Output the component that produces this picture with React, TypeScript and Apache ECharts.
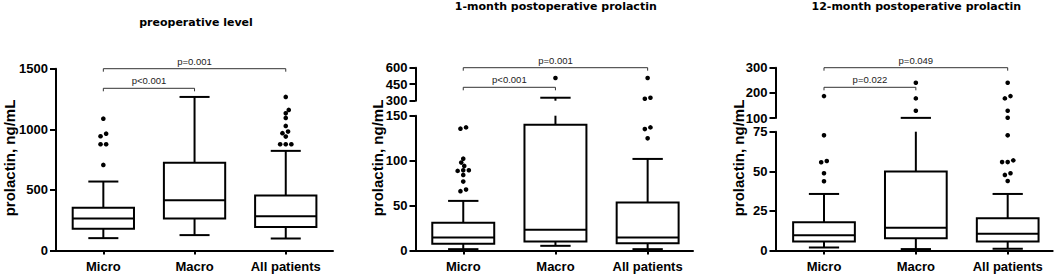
import React, { useEffect, useRef } from "react";
import * as echarts from "echarts";

// ---------- data ----------
const categories = ["Micro", "Macro", "All patients"];
const panelTitles = [
  "preoperative level",
  "1-month postoperative prolactin",
  "12-month postoperative prolactin",
];
const yAxisTitle = "prolactin, ng/mL";

// box values: [lower whisker, Q1, median, Q3, upper whisker]
const preopBoxes = [
  [102, 179, 264, 352, 569],
  [127, 264, 415, 723, 1267],
  [99, 193, 283, 453, 822],
];
const preopOutliers = [
  [706, 877, 877, 943, 964, 1088],
  [],
  [877, 877, 877, 940, 968, 981, 1028, 1094, 1132, 1160, 1267],
];
const preopTicks = [0, 500, 1000, 1500];
const preopPValues = [
  { from: 0, to: 2, label: "p=0.001" },
  { from: 0, to: 1, label: "p<0.001" },
];

const month1Boxes = [
  [1.5, 7.4, 14.4, 30.8, 55.2],
  [5.2, 10, 23, 140, 327],
  [1.5, 8.2, 14.4, 53.3, 101.9],
];
const month1Outliers = [
  [66, 67.8, 76.7, 84.1, 88.6, 89.3, 89.3, 94.1, 97.8, 102.2, 135.6, 137],
  [506],
  [124.8, 135.1, 137, 318, 327, 506],
];
const month1LowerTicks = [0, 50, 100, 150];
const month1UpperTicks = [300, 450, 600];
const month1PValues = [
  { from: 0, to: 2, label: "p=0.001" },
  { from: 0, to: 1, label: "p<0.001" },
];

const month12Boxes = [
  [1.9, 5.7, 9.7, 17.9, 35.7],
  [0.9, 7.8, 14.3, 49.8, 100.5],
  [1.1, 5.7, 10.5, 20.4, 35.7],
];
const month12Outliers = [
  [43.7, 48.8, 55.7, 56.5, 72.7, 187],
  [129, 178, 240],
  [43.9, 47.7, 48.8, 55.8, 55.8, 56.9, 72.7, 101, 129, 178, 187, 240],
];
const month12LowerTicks = [0, 25, 50, 75];
const month12UpperTicks = [100, 200, 300];
const month12PValues = [
  { from: 0, to: 2, label: "p=0.049" },
  { from: 0, to: 1, label: "p=0.022" },
];

// ---------- layout & style ----------
const FONT = "'Liberation Sans', Arial, Helvetica, sans-serif";
const TITLE_FONT = "'DejaVu Sans', Verdana, sans-serif";
const BOX_FRAC = 0.672;
const CAP_FRAC = 0.49;
const LW = 2;
const DOT_R = 2.3;
const ROW_TOL = 2.6;
const ROW_SP = 5.6;
const MIN_D = 4.4;
const BRACKET_STEP = 19.6;
const BRACKET_DROP = 3;

const layouts = [
  {
    left: 56, width: 277, xMin: -0.519, xMax: 2.518,
    segs: [{ top: 68.7, height: 181.8 }],
    titleX: 196, titleY: 22.7, nameX: 9.2,
  },
  {
    left: 415.5, width: 277.5, xMin: -0.518, xMax: 2.492,
    segs: [{ top: 115.7, height: 134.8 }, { top: 67.7, height: 33 }],
    titleX: 555.8, titleY: 6.5, nameX: 377.5,
  },
  {
    left: 775.5, width: 277.2, xMin: -0.528, xMax: 2.49,
    segs: [{ top: 131.7, height: 118.8 }, { top: 67.7, height: 50.3 }],
    titleX: 916.3, titleY: 6.5, nameX: 738.5,
  },
];

const panels = [
  { boxes: preopBoxes, outliers: preopOutliers, tickSets: [preopTicks], pvals: preopPValues },
  { boxes: month1Boxes, outliers: month1Outliers, tickSets: [month1LowerTicks, month1UpperTicks], pvals: month1PValues },
  { boxes: month12Boxes, outliers: month12Outliers, tickSets: [month12LowerTicks, month12UpperTicks], pvals: month12PValues },
];

function swarm(pts: any[]) {
  const out: number[][] = [];
  const byCat: Record<number, any[]> = {};
  pts.forEach((p) => {
    (byCat[p.cat] = byCat[p.cat] || []).push(p);
  });
  Object.keys(byCat).forEach((k) => {
    const list = byCat[+k].slice().sort((a, b) => b.py - a.py);
    const placed: number[][] = [];
    let i = 0;
    while (i < list.length) {
      const row = [list[i]];
      let j = i + 1;
      while (j < list.length && Math.abs(list[j].py - list[i].py) <= ROW_TOL) {
        row.push(list[j]);
        j++;
      }
      const n = row.length;
      const base = row.map((_, m) => (m - (n - 1) / 2) * ROW_SP);
      let shift = 0;
      for (let s = 0; s < 200; s++) {
        const cand = (s % 2 === 1 ? 1 : -1) * Math.ceil(s / 2) * 0.5;
        const ok = row.every((p, m) =>
          placed.every((q) => Math.hypot(p.px + base[m] + cand - q[0], p.py - q[1]) >= MIN_D)
        );
        if (ok) {
          shift = cand;
          break;
        }
      }
      row.forEach((p, m) => {
        const x = p.px + base[m] + shift;
        placed.push([x, p.py]);
        out[p.idx] = [x, p.py];
      });
      i = j;
    }
  });
  return out;
}

function buildOption() {
  const grid: any[] = [];
  const xAxis: any[] = [];
  const yAxis: any[] = [];
  const series: any[] = [];
  const graphic: any[] = [];

  panels.forEach((panel, pi) => {
    const lay = layouts[pi];
    lay.segs.forEach((seg, si) => {
      const ticks = panel.tickSets[si];
      const yMin = ticks[0];
      const yMax = ticks[ticks.length - 1];
      const interval = ticks[1] - ticks[0];
      const gi = grid.length;
      const isLower = si === 0;
      const isTop = si === lay.segs.length - 1;
      grid.push({ left: lay.left, top: seg.top, width: lay.width, height: seg.height, containLabel: false, outerBoundsMode: "none" });
      xAxis.push({
        gridIndex: gi,
        type: "value",
        min: lay.xMin,
        max: lay.xMax,
        show: isLower,
        axisLine: { show: true, onZero: false, lineStyle: { color: "#000", width: LW } },
        axisTick: { show: true, customValues: [0, 1, 2], length: 4, lineStyle: { color: "#000", width: LW } },
        axisLabel: {
          show: true,
          customValues: [0, 1, 2],
          formatter: (v: number) => categories[Math.round(v)] ?? "",
          fontFamily: FONT,
          fontWeight: "bold",
          fontSize: 13,
          color: "#000",
          margin: 9,
        },
        splitLine: { show: false },
      });
      yAxis.push({
        gridIndex: gi,
        type: "value",
        min: yMin,
        max: yMax,
        interval,
        axisLine: { show: true, onZero: false, lineStyle: { color: "#000", width: LW } },
        axisTick: { show: true, length: 6, lineStyle: { color: "#000", width: LW } },
        axisLabel: {
          fontFamily: FONT,
          fontWeight: "bold",
          fontSize: 13,
          color: "#000",
          margin: 8,
          formatter: (v: number) => String(v),
        },
        splitLine: { show: false },
      });

      // boxes
      const within = (v: number) => v >= yMin - 1e-9 && v <= yMax + 1e-9;
      series.push({
        type: "custom",
        xAxisIndex: gi,
        yAxisIndex: gi,
        clip: false,
        silent: true,
        data: panel.boxes.map((b, i) => [i, ...b]),
        renderItem: (params: any, api: any) => {
          const x = api.value(0);
          const lo = api.value(1), q1 = api.value(2), med = api.value(3), q3 = api.value(4), hi = api.value(5);
          const y = (v: number) => api.coord([x, v])[1];
          const cx = api.coord([x, med])[0];
          const yTop = y(yMax), yBot = y(yMin);
          const clampY = (v: number) => Math.min(yBot, Math.max(yTop, v));
          const unit = api.size([1, 0])[0];
          const bw = unit * BOX_FRAC;
          const cw = bw * CAP_FRAC;
          const st = { stroke: "#000", lineWidth: LW, fill: "none" };
          const children: any[] = [];
          const vline = (a: number, b: number) => {
            const lowV = Math.min(a, b), highV = Math.max(a, b);
            if (highV < yMin || lowV > yMax) return;
            children.push({ type: "line", shape: { x1: cx, y1: clampY(y(lowV)), x2: cx, y2: clampY(y(highV)) }, style: st });
          };
          const hline = (v: number, w: number) => {
            if (!within(v)) return;
            children.push({ type: "line", shape: { x1: cx - w / 2, y1: y(v), x2: cx + w / 2, y2: y(v) }, style: st });
          };
          vline(q3, hi);
          hline(hi, cw);
          vline(lo, q1);
          hline(lo, cw);
          if (within(q1) && within(q3)) {
            children.push({
              type: "rect",
              shape: { x: cx - bw / 2, y: y(q3), width: bw, height: y(q1) - y(q3) },
              style: { fill: "#fff", stroke: "#000", lineWidth: LW },
            });
          }
          hline(med, bw);
          return { type: "group", children };
        },
      });

      // outliers
      const pts: number[][] = [];
      panel.outliers.forEach((list, c) => list.forEach((v) => { if (within(v)) pts.push([c, v]); }));
      if (pts.length) {
        let cache: number[][] | null = null;
        series.push({
          type: "custom",
          xAxisIndex: gi,
          yAxisIndex: gi,
          clip: false,
          silent: true,
          data: pts,
          renderItem: (params: any, api: any) => {
            if (params.dataIndex === 0 || !cache) {
              cache = swarm(
                pts.map((p, idx) => {
                  const c = api.coord(p);
                  return { cat: p[0], px: c[0], py: c[1], idx };
                })
              );
            }
            const pos = cache[params.dataIndex];
            return { type: "circle", shape: { cx: pos[0], cy: pos[1], r: DOT_R }, style: { fill: "#000" } };
          },
        });
      }

      // significance brackets
      if (isTop) {
        const pv = panel.pvals;
        series.push({
          type: "custom",
          xAxisIndex: gi,
          yAxisIndex: gi,
          clip: false,
          silent: true,
          data: pv.map((p) => [p.from, p.to]),
          renderItem: (params: any, api: any) => {
            const p = pv[params.dataIndex];
            const yb = api.coord([0, yMax])[1] + params.dataIndex * BRACKET_STEP;
            const x1 = api.coord([p.from, yMax])[0];
            const x2 = api.coord([p.to, yMax])[0];
            return {
              type: "group",
              children: [
                {
                  type: "polyline",
                  shape: { points: [[x1, yb + BRACKET_DROP], [x1, yb], [x2, yb], [x2, yb + BRACKET_DROP]] },
                  style: { stroke: "#333", lineWidth: 1, fill: "none" },
                },
                {
                  type: "text",
                  x: (x1 + x2) / 2,
                  y: yb - 2.5,
                  style: { text: p.label, fontSize: 9.5, fontFamily: FONT, fill: "#222", align: "center", verticalAlign: "bottom" },
                },
              ],
            };
          },
        });
      }
    });

    graphic.push({
      type: "text",
      x: lay.titleX,
      y: lay.titleY,
      silent: true,
      style: { text: panelTitles[pi], fontSize: 11, fontWeight: "bold", fontFamily: TITLE_FONT, fill: "#000", align: "center", verticalAlign: "middle" },
    });
    graphic.push({
      type: "text",
      x: lay.nameX,
      y: 158,
      rotation: Math.PI / 2,
      silent: true,
      style: { text: yAxisTitle, fontSize: 15, fontWeight: "bold", fontFamily: FONT, fill: "#000", align: "center", verticalAlign: "middle" },
    });
  });

  return { animation: false, backgroundColor: "#fff", grid, xAxis, yAxis, series, graphic };
}

export default function App() {
  const ref = useRef<HTMLDivElement>(null);
  useEffect(() => {
    if (!ref.current) return;
    const chart = echarts.init(ref.current, null, { renderer: "svg" });
    chart.setOption(buildOption() as any);
    return () => chart.dispose();
  }, []);
  return <div ref={ref} style={{ position: "fixed", left: 0, top: 0, width: 1056, height: 275 }} />;
}
